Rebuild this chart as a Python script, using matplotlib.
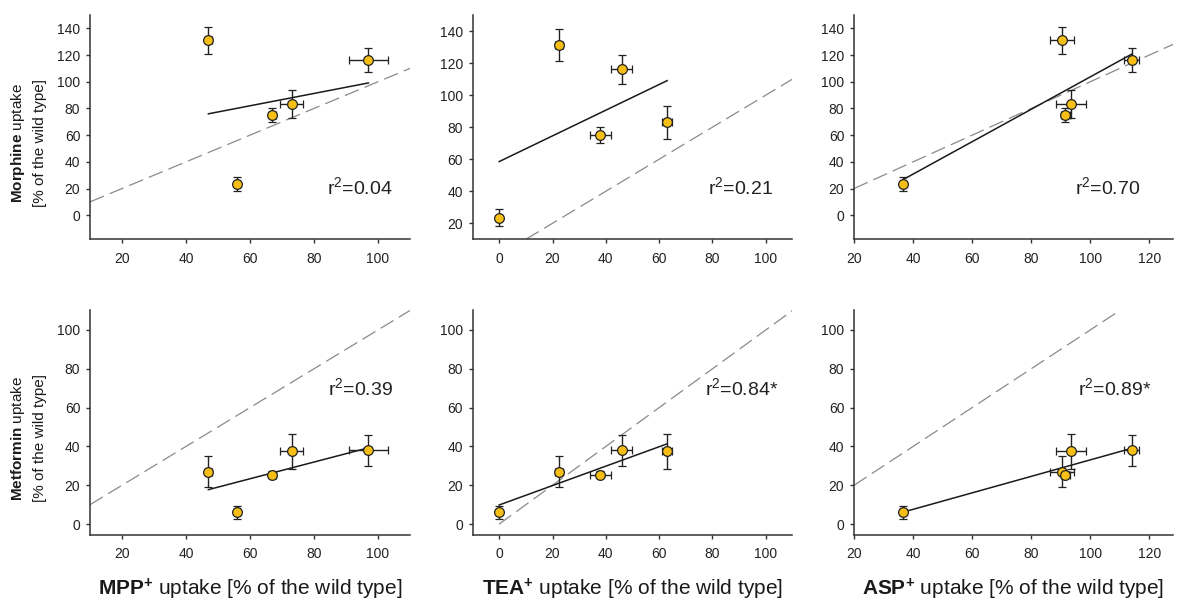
import matplotlib
matplotlib.use("Agg")
import matplotlib.pyplot as plt
import numpy as np

plt.rcParams["font.family"] = ["Liberation Sans", "DejaVu Sans"]
plt.rcParams["mathtext.fontset"] = "custom"
plt.rcParams["mathtext.rm"] = "Liberation Sans"
plt.rcParams["mathtext.bf"] = "Liberation Sans:bold"
plt.rcParams["mathtext.it"] = "Liberation Sans:italic"

# uptake of five transporter variants, % of wild type
mpp = [47, 97, 73, 67, 56]
mpp_err = [1.0, 6.0, 3.5, 1.0, 1.0]
tea = [22.5, 46, 63, 38, 0]
tea_err = [1.5, 4.0, 2.0, 4.0, 0.5]
asp = [90.5, 114, 93.5, 91.5, 36.5]
asp_err = [4.0, 2.5, 5.0, 1.5, 1.0]

morphine = [131, 116, 83, 75, 23.5]
morphine_err = [10, 9, 10.5, 5, 5.5]
metformin = [27, 38, 37.5, 25.5, 6]
metformin_err = [8, 8, 9, 2, 3.5]

r2_labels = [["0.04", "0.21", "0.70"],
             ["0.39", "0.84*", "0.89*"]]

x_series = [(mpp, mpp_err, "MPP"), (tea, tea_err, "TEA"), (asp, asp_err, "ASP")]
y_series = [(morphine, morphine_err, "Morphine"), (metformin, metformin_err, "Metformin")]

xlims = [(10, 110), (-10, 110), (20, 128)]
xticks = [[20, 40, 60, 80, 100], [0, 20, 40, 60, 80, 100], [20, 40, 60, 80, 100, 120]]
ylims = [[(-18, 150), (10, 150), (-18, 150)],
         [(-5.5, 110), (-5.5, 110), (-5.5, 110)]]
yticks = [[list(range(0, 141, 20)), list(range(20, 141, 20)), list(range(0, 141, 20))],
          [list(range(0, 101, 20))] * 3]
r2_pos = [[(0.947, 0.232), (0.939, 0.233), (0.897, 0.233)],
          [(0.947, 0.654), (0.957, 0.654), (0.933, 0.654)]]

W, H = 1185, 602
fig = plt.figure(figsize=(W / 100, H / 100), dpi=100)

lefts = [90, 472.5, 854]
widths = [320, 320, 319]
tops = [15, 310.5]
height = 224.3

for r, (yv, ye, yname) in enumerate(y_series):
    for c, (xv, xe, xname) in enumerate(x_series):
        ax = fig.add_axes([lefts[c] / W, 1 - (tops[r] + height) / H,
                           widths[c] / W, height / H])
        ax.set_xlim(*xlims[c])
        ax.set_ylim(*ylims[r][c])
        ax.set_xticks(xticks[c])
        ax.set_yticks(yticks[r][c])

        # identity line
        lo = max(0, xlims[c][0], ylims[r][c][0])
        hi = min(xlims[c][1], ylims[r][c][1])
        ax.plot([lo, hi], [lo, hi], color="#8a8a8a", lw=0.9,
                dashes=(12, 5), zorder=1)

        # least-squares fit over the data range
        slope, icpt = np.polyfit(xv, yv, 1)
        xf = np.array([min(xv), max(xv)])
        ax.plot(xf, slope * xf + icpt, color="#1a1a1a", lw=1.1, zorder=2)

        ax.errorbar(xv, yv, xerr=xe, yerr=ye, fmt="o", ms=7,
                    mfc="#F7BE16", mec="#222222", mew=0.9,
                    ecolor="#222222", elinewidth=1.0, capsize=3,
                    capthick=1.0, zorder=3)

        ax.text(*r2_pos[r][c], "r$^2$=" + r2_labels[r][c],
                transform=ax.transAxes, ha="right", va="center",
                fontsize=14, color="#222222")

        for side in ("top", "right"):
            ax.spines[side].set_visible(False)
        for side in ("left", "bottom"):
            ax.spines[side].set_color("#333333")
            ax.spines[side].set_linewidth(1.1)
        ax.tick_params(length=3, width=1.0, color="#333333",
                       labelsize=10, labelcolor="#222222")
        ax.tick_params(axis="x", pad=6)
        ax.tick_params(axis="y", pad=4)

        if r == 1:
            cx = (lefts[c] + widths[c] / 2) / W
            fig.text(cx, 1 - 595 / H,
                     r"$\mathbf{%s^{+}}$ uptake [%% of the wild type]" % xname,
                     ha="center", va="baseline", fontsize=15, color="#1a1a1a")

    cy = 1 - (tops[r] + 128) / H
    fig.text(18 / W, cy, r"$\mathbf{%s}$ uptake" % yname, rotation=90,
             ha="center", va="center", fontsize=11, color="#1a1a1a")
    fig.text(40 / W, cy, "[% of the wild type]", rotation=90,
             ha="center", va="center", fontsize=11, color="#1a1a1a")

fig.savefig("out.png", dpi=100)
